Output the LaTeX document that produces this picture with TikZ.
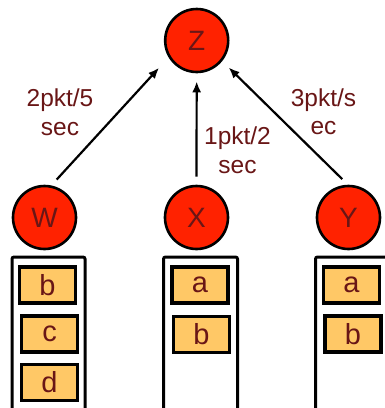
\documentclass[tikz,border=0pt]{standalone}
\usepackage{fontspec}
\setmainfont{Liberation Sans}
\usetikzlibrary{arrows.meta}
\definecolor{nodered}{RGB}{255,34,0}
\definecolor{pktfill}{RGB}{255,200,102}
\definecolor{txtred}{RGB}{105,22,22}
\tikzset{
  router/.style={circle, draw=black, line width=2.6pt, fill=nodered,
    minimum size=63pt, inner sep=0pt, text=txtred,
    font=\fontsize{28}{28}\selectfont},
  pkt/.style={rectangle, draw=black, line width=3.6pt, fill=pktfill,
    minimum width=56pt, minimum height=36pt, inner sep=0pt, text=txtred,
    font=\fontsize{29}{29}\selectfont},
  queue/.style={draw=black, line width=3pt, rounded corners=2pt},
  link/.style={draw=black, line width=2.2pt, -{Latex[length=11pt,width=9pt]}},
  rate/.style={text=txtred, align=center, inner sep=0pt,
    font=\fontsize{24.5}{28.5}\selectfont}
}
\begin{document}
\begin{tikzpicture}[x=1pt,y=-1pt]
\useasboundingbox (0,0) rectangle (384,408);

% routers
\node[router] (Z) at (196.7,40.5) {Z};
\node[router] (W) at (44.5,217.5) {W};
\node[router] (X) at (196.5,217.5) {X};
\node[router] (Y) at (348.5,217.5) {Y};

% output queues (open at the bottom)
\draw[queue] (12,412) -- (12,257) -- (85,257) -- (85,412);
\draw[queue] (163.5,412) -- (163.5,257) -- (237.5,257) -- (237.5,412);
\draw[queue] (315.5,412) -- (315.5,257) -- (390,257);

% queued packets
\node[pkt] (wb) at (47.5,285) {b};
\node[pkt] (wc) at (49.5,334) {c};
\node[pkt] (wd) at (49.5,382.5) {d};
\node[pkt] (xa) at (200,285) {a};
\node[pkt] (xb) at (201.5,334.5) {b};
\node[pkt] (ya) at (351.5,285) {a};
\node[pkt] (yb) at (353,334) {b};

% links towards Z
\draw[link, shorten <=8pt, shorten >=14pt] (W.78) -- (Z.211);
\draw[link, shorten <=8pt, shorten >=8pt] (X.north) -- (Z.south);
\draw[link, shorten <=8pt, shorten >=9pt] (Y.91) -- (Z.321);

% link rates
\node[rate] (rw) at (60,112) {2pkt/5\\sec};
\node[rate] (rx) at (237.5,150) {1pkt/2\\sec};
\node[rate] (ry) at (323.5,111.5) {3pkt/s\\ec};
\end{tikzpicture}
\end{document}
